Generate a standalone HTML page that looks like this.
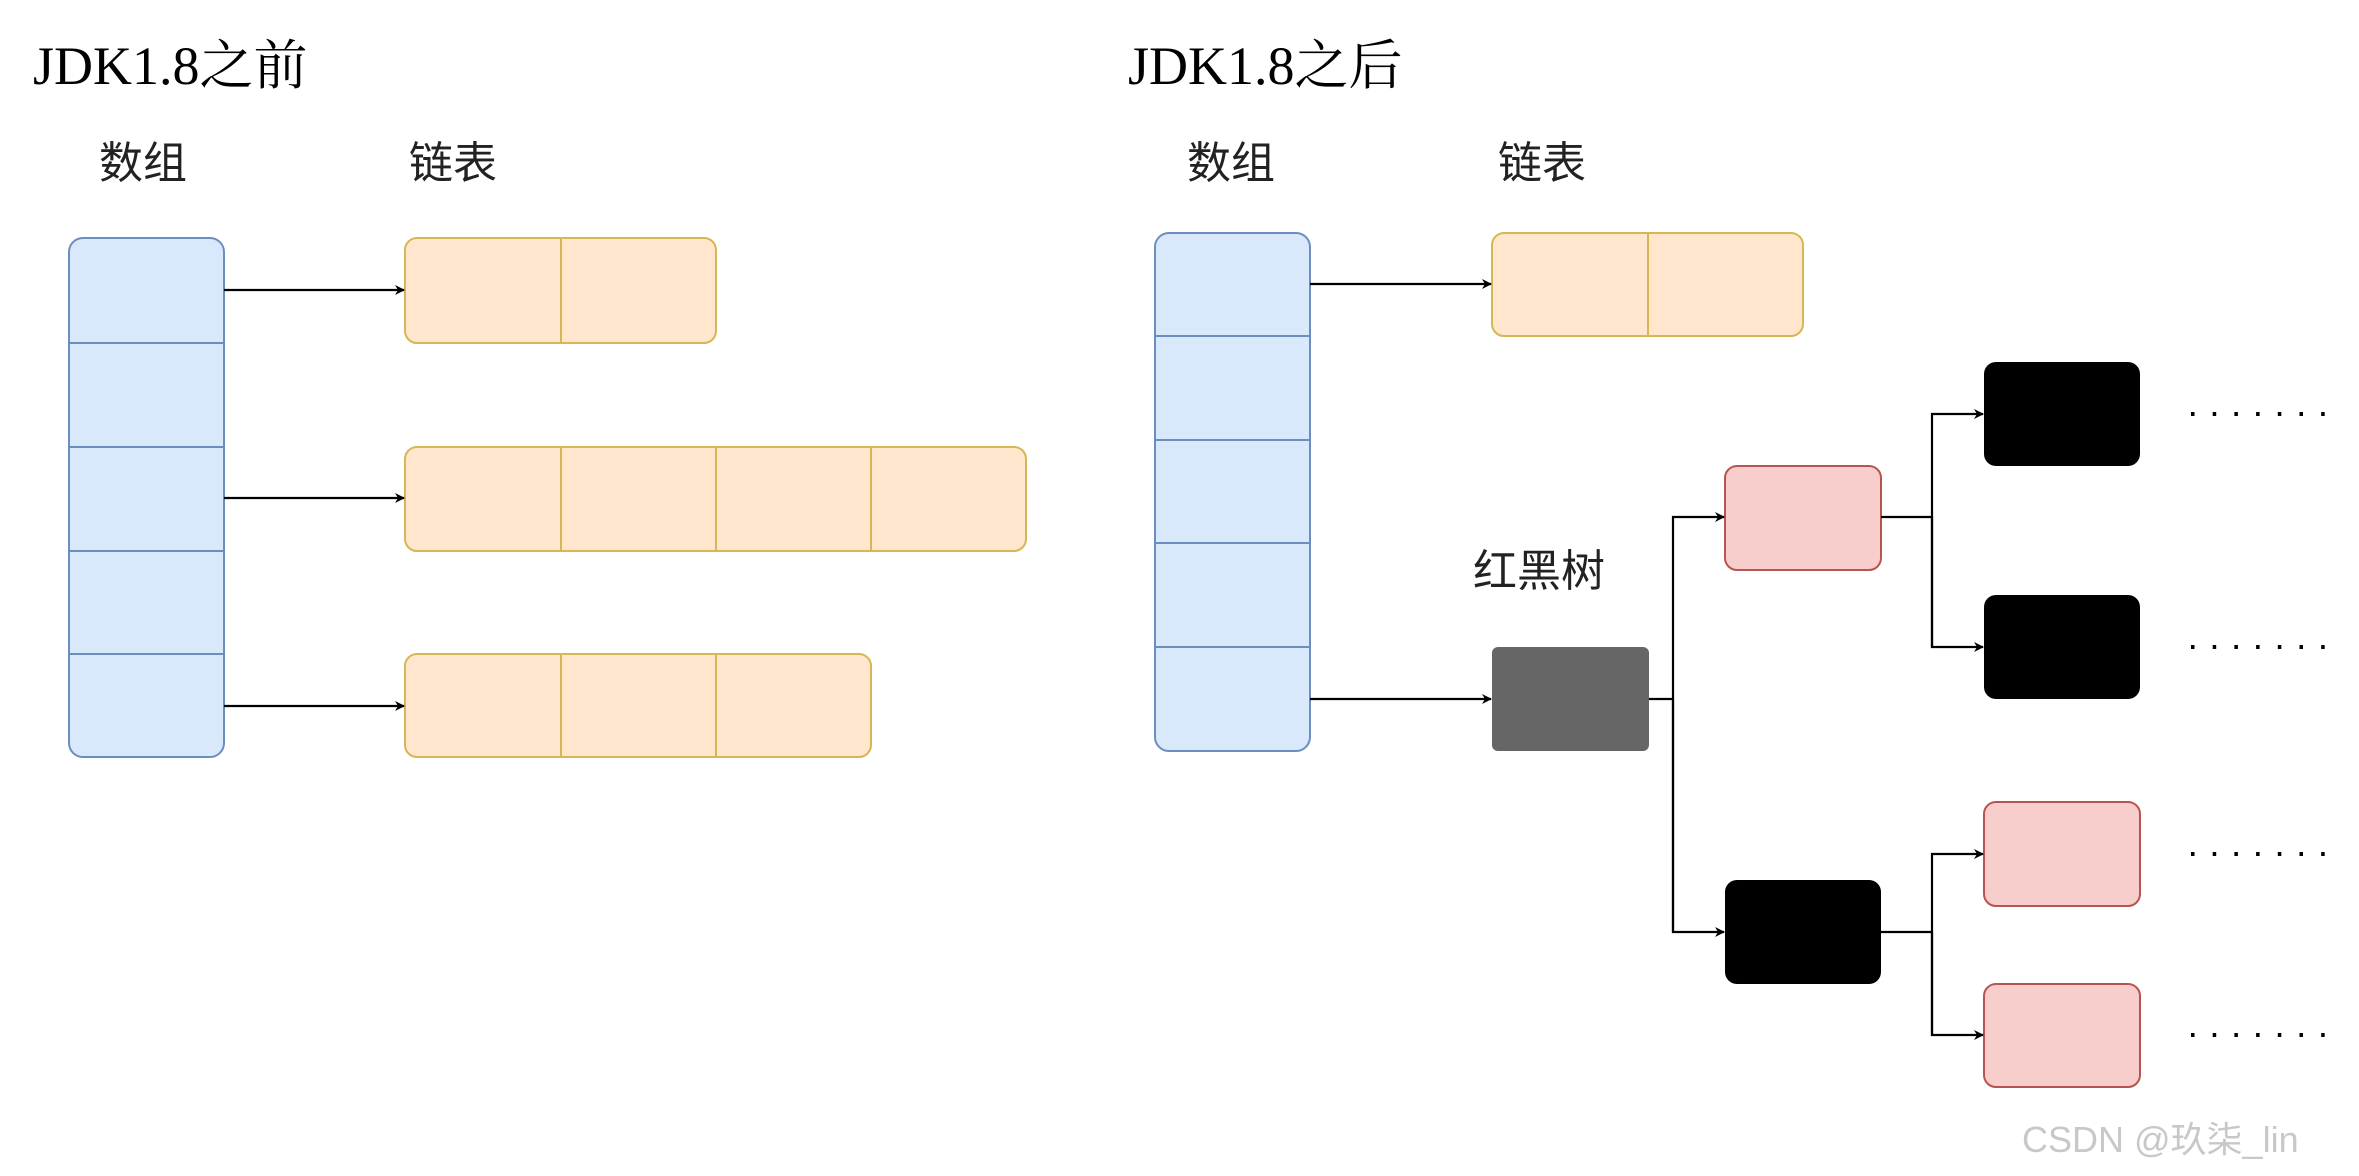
<!DOCTYPE html>
<html><head><meta charset="utf-8"><style>
html,body{margin:0;padding:0;background:#fff;}
svg{display:block;}
</style></head><body>
<svg width="2359" height="1176" viewBox="0 0 2359 1176" xmlns="http://www.w3.org/2000/svg">
<defs>
<marker id="ar" markerWidth="10" markerHeight="10" refX="9" refY="5" orient="auto" markerUnits="userSpaceOnUse">
<path d="M0,0 L10,5 L0,10 L3,5 Z" fill="#000"/>
</marker>
</defs>
<style>
.t{font-family:"Liberation Serif","Noto Serif CJK SC",serif;font-size:54px;fill:#000;}
.l{font-family:"Liberation Sans","Noto Sans CJK SC",sans-serif;font-size:44px;fill:#222;}
.c{stroke:#000;stroke-width:2.2;fill:none;}
</style>
<!-- Left -->
<text class="t" x="33" y="84">JDK1.8之前</text>
<text class="l" x="99" y="178">数组</text>
<text class="l" x="409" y="178">链表</text>
<rect x="69" y="238" width="155" height="519" rx="14" fill="#dae8fc" stroke="#6c8ebf" stroke-width="2"/>
<g stroke="#6c8ebf" stroke-width="2"><line x1="69" y1="343" x2="224" y2="343"/><line x1="69" y1="447" x2="224" y2="447"/><line x1="69" y1="551" x2="224" y2="551"/><line x1="69" y1="654" x2="224" y2="654"/></g>
<g fill="#ffe6cc" stroke="#d6b656" stroke-width="2">
<rect x="405" y="238" width="311" height="105" rx="12"/>
<rect x="405" y="447" width="621" height="104" rx="12"/>
<rect x="405" y="654" width="466" height="103" rx="12"/>
</g>
<g stroke="#d6b656" stroke-width="2">
<line x1="561" y1="238" x2="561" y2="343"/>
<line x1="561" y1="447" x2="561" y2="551"/><line x1="716" y1="447" x2="716" y2="551"/><line x1="871" y1="447" x2="871" y2="551"/>
<line x1="561" y1="654" x2="561" y2="757"/><line x1="716" y1="654" x2="716" y2="757"/>
</g>
<line class="c" x1="224" y1="290" x2="404" y2="290" marker-end="url(#ar)"/>
<line class="c" x1="224" y1="498" x2="404" y2="498" marker-end="url(#ar)"/>
<line class="c" x1="224" y1="706" x2="404" y2="706" marker-end="url(#ar)"/>
<!-- Right -->
<text class="t" x="1128" y="84">JDK1.8之后</text>
<text class="l" x="1187" y="178">数组</text>
<text class="l" x="1498" y="178">链表</text>
<text class="l" x="1473" y="586">红黑树</text>
<rect x="1155" y="233" width="155" height="518" rx="14" fill="#dae8fc" stroke="#6c8ebf" stroke-width="2"/>
<g stroke="#6c8ebf" stroke-width="2"><line x1="1155" y1="336" x2="1310" y2="336"/><line x1="1155" y1="440" x2="1310" y2="440"/><line x1="1155" y1="543" x2="1310" y2="543"/><line x1="1155" y1="647" x2="1310" y2="647"/></g>
<rect x="1492" y="233" width="311" height="103" rx="12" fill="#ffe6cc" stroke="#d6b656" stroke-width="2"/>
<line x1="1648" y1="233" x2="1648" y2="336" stroke="#d6b656" stroke-width="2"/>
<line class="c" x1="1310" y1="284" x2="1491" y2="284" marker-end="url(#ar)"/>
<rect x="1492" y="647" width="157" height="104" rx="6" fill="#666"/>
<line class="c" x1="1310" y1="699" x2="1491" y2="699" marker-end="url(#ar)"/>
<g fill="#f8cecc" stroke="#b85450" stroke-width="2">
<rect x="1725" y="466" width="156" height="104" rx="12"/>
<rect x="1984" y="802" width="156" height="104" rx="12"/>
<rect x="1984" y="984" width="156" height="103" rx="12"/>
</g>
<g fill="#000">
<rect x="1725" y="880" width="156" height="104" rx="12"/>
<rect x="1984" y="362" width="156" height="104" rx="12"/>
<rect x="1984" y="595" width="156" height="104" rx="12"/>
</g>
<polyline class="c" points="1649,699 1673,699"/>
<polyline class="c" points="1673,932 1673,517 1724,517" marker-end="url(#ar)"/>
<polyline class="c" points="1673,699 1673,932 1724,932" marker-end="url(#ar)"/>
<polyline class="c" points="1881,517 1932,517"/>
<polyline class="c" points="1932,647 1932,414 1983,414" marker-end="url(#ar)"/>
<polyline class="c" points="1932,517 1932,647 1983,647" marker-end="url(#ar)"/>
<polyline class="c" points="1881,932 1932,932"/>
<polyline class="c" points="1932,1035 1932,854 1983,854" marker-end="url(#ar)"/>
<polyline class="c" points="1932,932 1932,1035 1983,1035" marker-end="url(#ar)"/>
<g stroke="#000" stroke-width="4" stroke-dasharray="3.5,18.2" stroke-linecap="butt">
<line x1="2191" y1="414" x2="2325" y2="414"/>
<line x1="2191" y1="647" x2="2325" y2="647"/>
<line x1="2191" y1="854" x2="2325" y2="854"/>
<line x1="2191" y1="1035" x2="2325" y2="1035"/>
</g>
<text x="2022" y="1152" font-family="Liberation Sans,'Noto Sans CJK SC',sans-serif" font-size="36" fill="#c8c8c8">CSDN @玖柒_lin</text>
</svg>
</body></html>
